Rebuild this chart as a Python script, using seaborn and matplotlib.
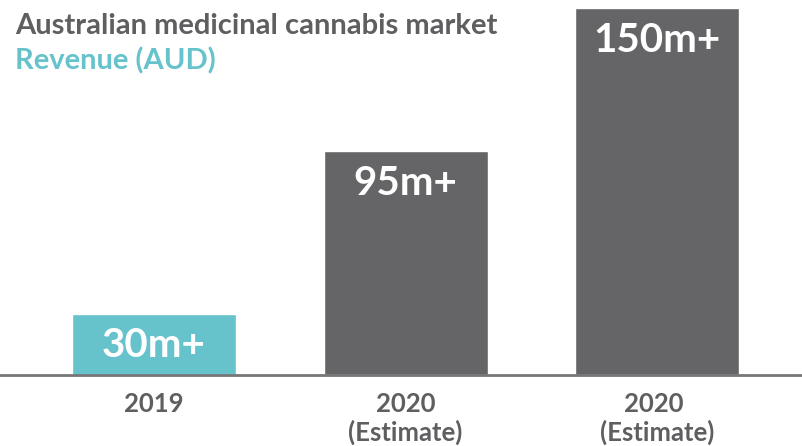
import matplotlib
matplotlib.use("Agg")
import matplotlib.pyplot as plt
import seaborn as sns
import pandas as pd

# values (bar heights in m AUD) and their printed labels
years = ["2019", "2020\n(Estimate)", "2020 \n(Estimate)"]
revenue = [25, 91.5, 150]
bar_labels = ["30m+", "95m+", "150m+"]
bar_colors = ["#66c2cb", "#656567", "#656567"]

df = pd.DataFrame({"year": years, "revenue": revenue})

sns.set_theme(style="white")
plt.rcParams['font.family'] = ['Lato', 'DejaVu Sans']

grey = "#5f5f61"
teal = "#66c2cb"

fig = plt.figure(figsize=(8.03, 4.46), dpi=100)
ax = fig.add_axes([0, 71 / 446, 1, 375 / 446])

sns.barplot(data=df, x="year", y="revenue", hue="year", palette=bar_colors,
            width=0.652, legend=False, ax=ax, saturation=1)

ax.set_xlim(-0.612, 2.58)
ax.set_ylim(0, 150 * 375 / 367)

for i, (v, lab) in enumerate(zip(revenue, bar_labels)):
    ax.annotate(lab, (i, v), xytext=(0, -32), textcoords="offset pixels",
                ha="center", va="center", color="white",
                fontsize=29, fontweight="bold")

for s in ["top", "right", "left"]:
    ax.spines[s].set_visible(False)
ax.spines["bottom"].set_color("#777777")
ax.spines["bottom"].set_linewidth(2)
ax.set_yticks([])
ax.set_xlabel("")
ax.set_ylabel("")
ax.tick_params(axis="x", length=0, pad=12, labelsize=18.5, labelcolor=grey)
for t in ax.get_xticklabels():
    t.set_fontweight("bold")
    t.set_linespacing(1.17)
    t.set_va("top")

fig.text(15 / 803, 1 - 26 / 446, "Australian medicinal cannabis market",
         ha="left", va="center", fontsize=21, fontweight="bold", color=grey)
fig.text(15 / 803, 1 - 61 / 446, "Revenue (AUD)",
         ha="left", va="center", fontsize=21, fontweight="bold", color=teal)

fig.savefig("out.png", dpi=100)
